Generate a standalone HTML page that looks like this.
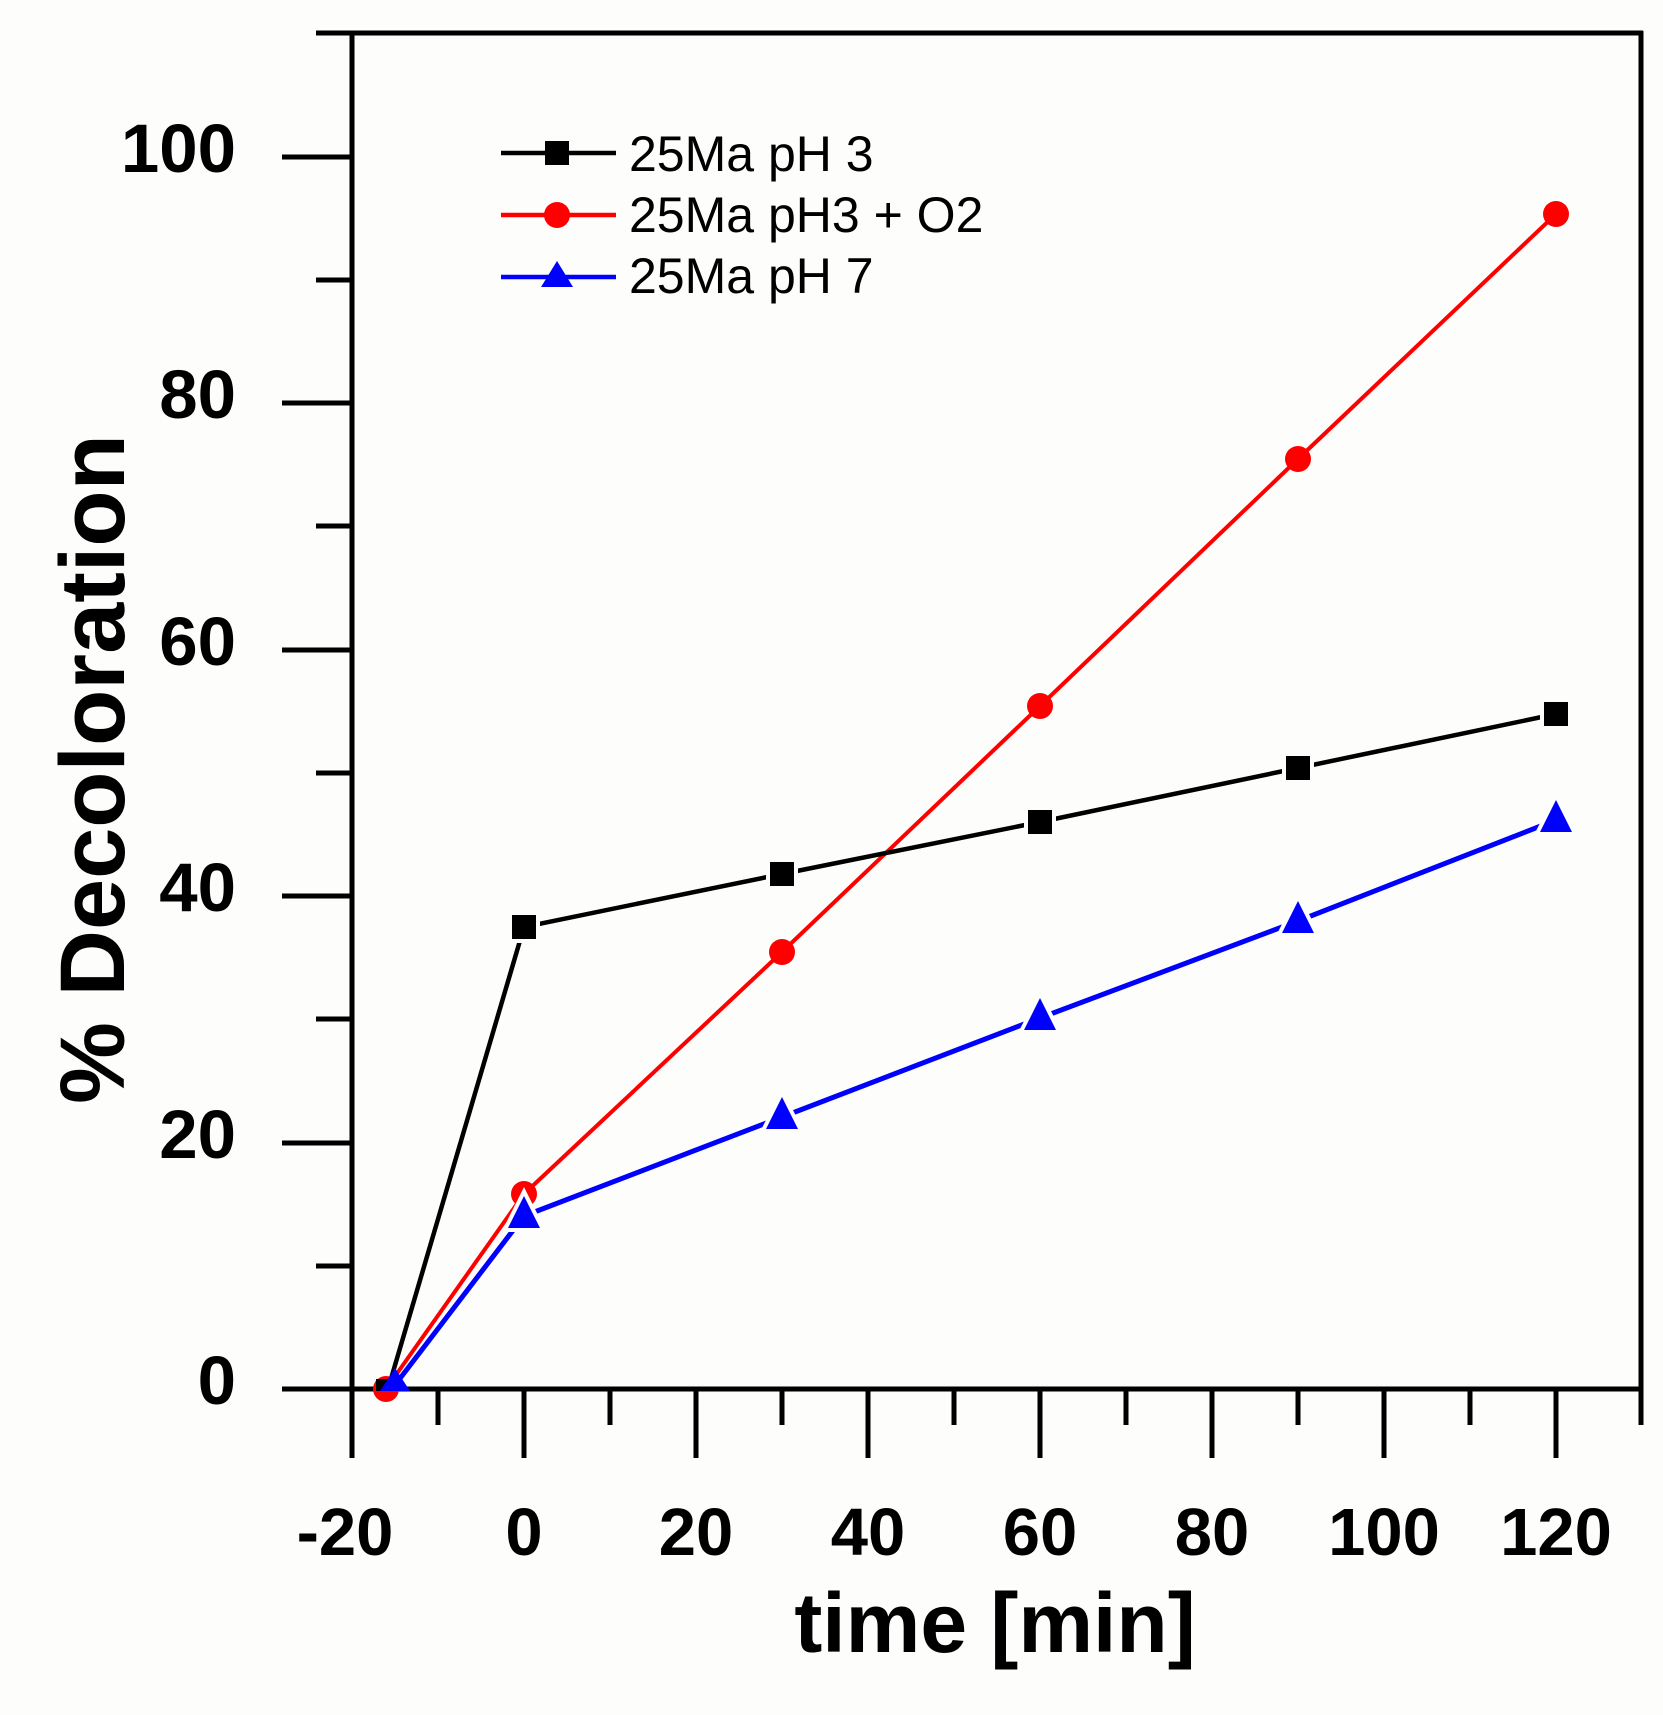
<!DOCTYPE html>
<html><head><meta charset="utf-8"><style>
html,body{margin:0;padding:0;background:#fdfdfb;}
svg{display:block;}
text{font-family:"Liberation Sans",Arial,sans-serif;fill:#000;}
</style></head><body>
<svg width="1663" height="1715" viewBox="0 0 1663 1715" xmlns="http://www.w3.org/2000/svg">
<rect width="1663" height="1715" fill="#fdfdfb"/>
<g stroke="#000" stroke-width="5" fill="none">
<line x1="316" y1="33" x2="1643" y2="33"/>
<line x1="352" y1="31" x2="352" y2="1458"/>
<line x1="1641" y1="31" x2="1641" y2="1425"/>
<line x1="282" y1="1389" x2="1643" y2="1389"/>
<!-- y ticks -->
<line x1="282" y1="1389" x2="352" y2="1389"/>
<line x1="316" y1="1266" x2="352" y2="1266"/>
<line x1="282" y1="1143" x2="352" y2="1143"/>
<line x1="316" y1="1019" x2="352" y2="1019"/>
<line x1="282" y1="896" x2="352" y2="896"/>
<line x1="316" y1="773" x2="352" y2="773"/>
<line x1="282" y1="650" x2="352" y2="650"/>
<line x1="316" y1="526" x2="352" y2="526"/>
<line x1="282" y1="403" x2="352" y2="403"/>
<line x1="316" y1="280" x2="352" y2="280"/>
<line x1="282" y1="157" x2="352" y2="157"/>
<!-- x ticks -->
<line x1="438" y1="1389" x2="438" y2="1425"/>
<line x1="524" y1="1389" x2="524" y2="1458"/>
<line x1="610" y1="1389" x2="610" y2="1425"/>
<line x1="696" y1="1389" x2="696" y2="1458"/>
<line x1="782" y1="1389" x2="782" y2="1425"/>
<line x1="868" y1="1389" x2="868" y2="1458"/>
<line x1="954" y1="1389" x2="954" y2="1425"/>
<line x1="1040" y1="1389" x2="1040" y2="1458"/>
<line x1="1126" y1="1389" x2="1126" y2="1425"/>
<line x1="1212" y1="1389" x2="1212" y2="1458"/>
<line x1="1298" y1="1389" x2="1298" y2="1425"/>
<line x1="1384" y1="1389" x2="1384" y2="1458"/>
<line x1="1470" y1="1389" x2="1470" y2="1425"/>
<line x1="1556" y1="1389" x2="1556" y2="1458"/>
</g>
<g font-size="69" font-weight="bold" text-anchor="end">
<text x="236" y="172">100</text>
<text x="236" y="418">80</text>
<text x="236" y="665">60</text>
<text x="236" y="911">40</text>
<text x="236" y="1158">20</text>
<text x="236" y="1404">0</text>
</g>
<g font-size="67" font-weight="bold" text-anchor="middle">
<text x="345" y="1555">-20</text>
<text x="524" y="1555">0</text>
<text x="696" y="1555">20</text>
<text x="868" y="1555">40</text>
<text x="1040" y="1555">60</text>
<text x="1212" y="1555">80</text>
<text x="1384" y="1555">100</text>
<text x="1556" y="1555">120</text>
</g>
<text x="995" y="1652" font-size="84" font-weight="bold" text-anchor="middle">time [min]</text>
<text transform="translate(124,769) rotate(-90)" font-size="92" font-weight="bold" text-anchor="middle">% Decoloration</text>

<!-- red series -->
<polyline fill="none" stroke="#ff0000" stroke-width="4" points="386,1389 524,1194 782,952 1040,706 1298,459 1556,214"/>
<g fill="#ff0000">
<circle cx="386" cy="1389" r="13"/><circle cx="524" cy="1194" r="13"/><circle cx="782" cy="952" r="13"/><circle cx="1040" cy="706" r="13"/><circle cx="1298" cy="459" r="13"/><circle cx="1556" cy="214" r="13"/>
</g>
<!-- black series -->
<polyline fill="none" stroke="#000" stroke-width="4.5" points="388,1389 524,927 782,874 1040,822 1298,768 1556,714"/>
<g fill="#000" stroke="#fdfdfb" stroke-width="8" paint-order="stroke">
<rect x="512" y="915" width="24" height="24"/>
<rect x="770" y="862" width="24" height="24"/>
<rect x="1028" y="810" width="24" height="24"/>
<rect x="1286" y="756" width="24" height="24"/>
<rect x="1544" y="702" width="24" height="24"/>
</g>
<rect x="376" y="1379" width="22" height="12" fill="#000"/>
<!-- blue series -->
<polyline fill="none" stroke="#0000ff" stroke-width="5" points="395,1385 524,1216 782,1117 1040,1018 1298,921 1556,820"/>
<g fill="#0000ff" stroke="#fdfdfb" stroke-width="8" paint-order="stroke">
<polygon points="524,1196 508,1228 540,1228"/>
<polygon points="782,1097 766,1129 798,1129"/>
<polygon points="1040,998 1024,1030 1056,1030"/>
<polygon points="1298,901 1282,933 1314,933"/>
<polygon points="1556,800 1540,832 1572,832"/>
</g>
<polygon points="395,1368 380,1391 410,1391" fill="#0000ff"/>

<!-- legend -->
<line x1="501" y1="153" x2="616" y2="153" stroke="#000" stroke-width="4.5"/>
<rect x="545" y="141" width="24" height="24" fill="#000"/>
<line x1="501" y1="215" x2="616" y2="215" stroke="#ff0000" stroke-width="4.5"/>
<circle cx="557" cy="215" r="13" fill="#ff0000"/>
<line x1="501" y1="277" x2="616" y2="277" stroke="#0000ff" stroke-width="4.5"/>
<polygon points="557,261 541,287 573,287" fill="#0000ff"/>
<g font-size="50">
<text x="629" y="171">25Ma pH 3</text>
<text x="629" y="232">25Ma pH3 + O2</text>
<text x="629" y="293">25Ma pH 7</text>
</g>
</svg>
</body></html>
